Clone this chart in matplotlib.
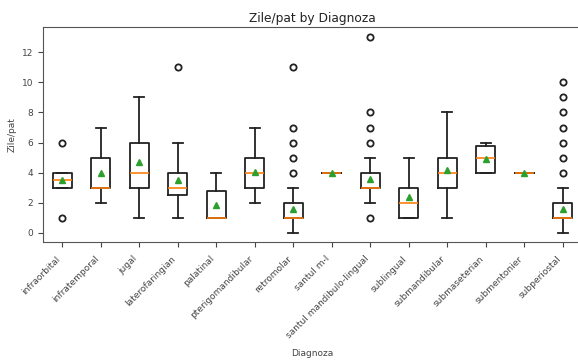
import matplotlib
matplotlib.use("Agg")
import matplotlib.pyplot as plt

categories = ["infraorbital", "infratemporal", "jugal", "laterofaringian", "palatinal",
              "pterigomandibular", "retromolar", "santul m-l", "santul mandibulo-lingual",
              "sublingual", "submandibular", "submaseterian", "submentonier", "subperiostal"]
q1 = [3, 3, 3, 2.5, 1, 3, 1, 4, 3, 1, 3, 4, 4, 1]
med = [3.5, 3, 4, 3, 1, 4, 1, 4, 3, 2, 4, 5, 4, 1]
q3 = [4, 5, 6, 4, 2.75, 5, 2, 4, 4, 3, 5, 5.75, 4, 2]
whislo = [3, 2, 1, 1, 1, 2, 0, 4, 2, 1, 1, 4, 4, 0]
whishi = [4, 7, 9, 6, 4, 7, 3, 4, 5, 5, 8, 6, 4, 3]
means = [3.5, 4.0, 4.7, 3.5, 1.82, 4.06, 1.6, 4.0, 3.55, 2.4, 4.15, 4.92, 4.0, 1.6]
fliers = [[1, 6], [], [], [11], [], [], [4, 5, 6, 7, 11], [], [1, 6, 7, 8, 13],
          [], [], [], [], [4, 5, 6, 7, 8, 9, 10]]

stats = []
for i, name in enumerate(categories):
    stats.append(dict(label=name, q1=q1[i], med=med[i], q3=q3[i], whislo=whislo[i],
                      whishi=whishi[i], mean=means[i], fliers=fliers[i]))

fig = plt.figure(figsize=(5.78, 3.6), dpi=100)
ax = fig.add_axes([43 / 578, 1 - 242.3 / 360, (582 - 43) / 578, (242.3 - 27.3) / 360])
ax.bxp(stats, showmeans=True,
       boxprops=dict(color="#222222", linewidth=1.3),
       whiskerprops=dict(color="#222222", linewidth=1.3),
       capprops=dict(color="#222222", linewidth=1.3),
       medianprops=dict(color="#ff7f0e", linewidth=1.2),
       meanprops=dict(marker="^", markerfacecolor="#2ca02c", markeredgecolor="#2ca02c", markersize=5),
       flierprops=dict(marker="o", markerfacecolor="none", markeredgecolor="#222222",
                       markersize=4.5, markeredgewidth=1.3))
ax.set_ylim(-0.64, 13.67)
ax.set_yticks([0, 2, 4, 6, 8, 10, 12])
ax.tick_params(labelsize=6.5, colors="#444444")
ax.tick_params(axis="x", pad=5)
plt.setp(ax.get_xticklabels(), rotation=45, ha="right")
ax.set_title("Zile/pat by Diagnoza", fontsize=8.8, color="#222222", pad=4)
ax.set_ylabel("Zile/pat", fontsize=6.5, color="#444444")
ax.set_xlabel("Diagnoza", fontsize=6.5, color="#444444", labelpad=6)
for s in ax.spines.values():
    s.set_color("#555555")
ax.spines["right"].set_visible(False)
fig.savefig("out.png", dpi=100)
